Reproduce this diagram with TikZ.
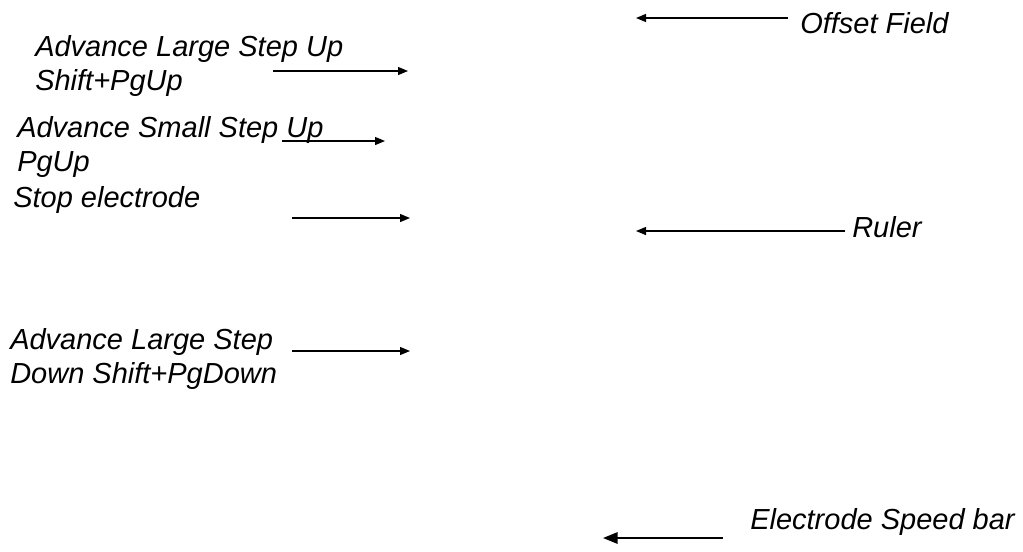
\documentclass[tikz,border=0pt]{standalone}
\usepackage{fontspec}
\setmainfont{Liberation Sans}
\usetikzlibrary{positioning,arrows.meta}
\tikzstyle{keytext} = [inner sep=0pt, anchor=base west, align=left, font=\fontsize{21.75}{25.5}\selectfont\itshape]
\tikzstyle{pointer} = [-{Triangle[length=7.5pt,width=6pt]}, line width=0.9pt]
\tikzstyle{bigpointer} = [-{Triangle[length=11pt,width=8.5pt]}, line width=1.6pt]

\begin{document}
\begin{tikzpicture}[x=0.75pt,y=-0.75pt]
		\useasboundingbox (0,0) rectangle (1023,551);

		% left hand labels (base is the last line)
		\node[keytext] (bigup) at (35,90) {Advance Large Step Up\\Shift+PgUp};
		\node[keytext] (smallup) at (17,171) {Advance Small Step Up\\PgUp};
		\node[keytext] (stop) at (13,207) {Stop electrode};
		\node[keytext] (bigdown) at (10,383) {Advance Large Step\\Down Shift+PgDown};

		% right hand labels
		\node[keytext] (offset) at (800,33) {Offset Field};
		\node[keytext] (ruler) at (852,237) {Ruler};
		\node[keytext] (speed) at (750,529) {Electrode Speed bar};

		% arrow ends
		\node[coordinate] (bigupstart) at (273,71) {};
		\node[coordinate] (bigupend) at (408,71) {};
		\node[coordinate] (smallupstart) at (282,141) {};
		\node[coordinate] (smallupend) at (385,141) {};
		\node[coordinate] (stopstart) at (292,218) {};
		\node[coordinate] (stopend) at (410,218) {};
		\node[coordinate] (bigdownstart) at (292,351) {};
		\node[coordinate] (bigdownend) at (410,351) {};
		\node[coordinate] (offsetstart) at (788,18) {};
		\node[coordinate] (offsetend) at (636,18) {};
		\node[coordinate] (rulerstart) at (845,231) {};
		\node[coordinate] (rulerend) at (636,231) {};
		\node[coordinate] (speedstart) at (723,538) {};
		\node[coordinate] (speedend) at (603,538) {};

		% arrows
		\draw[pointer] (bigupstart) -- (bigupend);
		\draw[pointer] (smallupstart) -- (smallupend);
		\draw[pointer] (stopstart) -- (stopend);
		\draw[pointer] (bigdownstart) -- (bigdownend);
		\draw[pointer] (offsetstart) -- (offsetend);
		\draw[pointer] (rulerstart) -- (rulerend);
		\draw[bigpointer] (speedstart) -- (speedend);
\end{tikzpicture}
\end{document}
